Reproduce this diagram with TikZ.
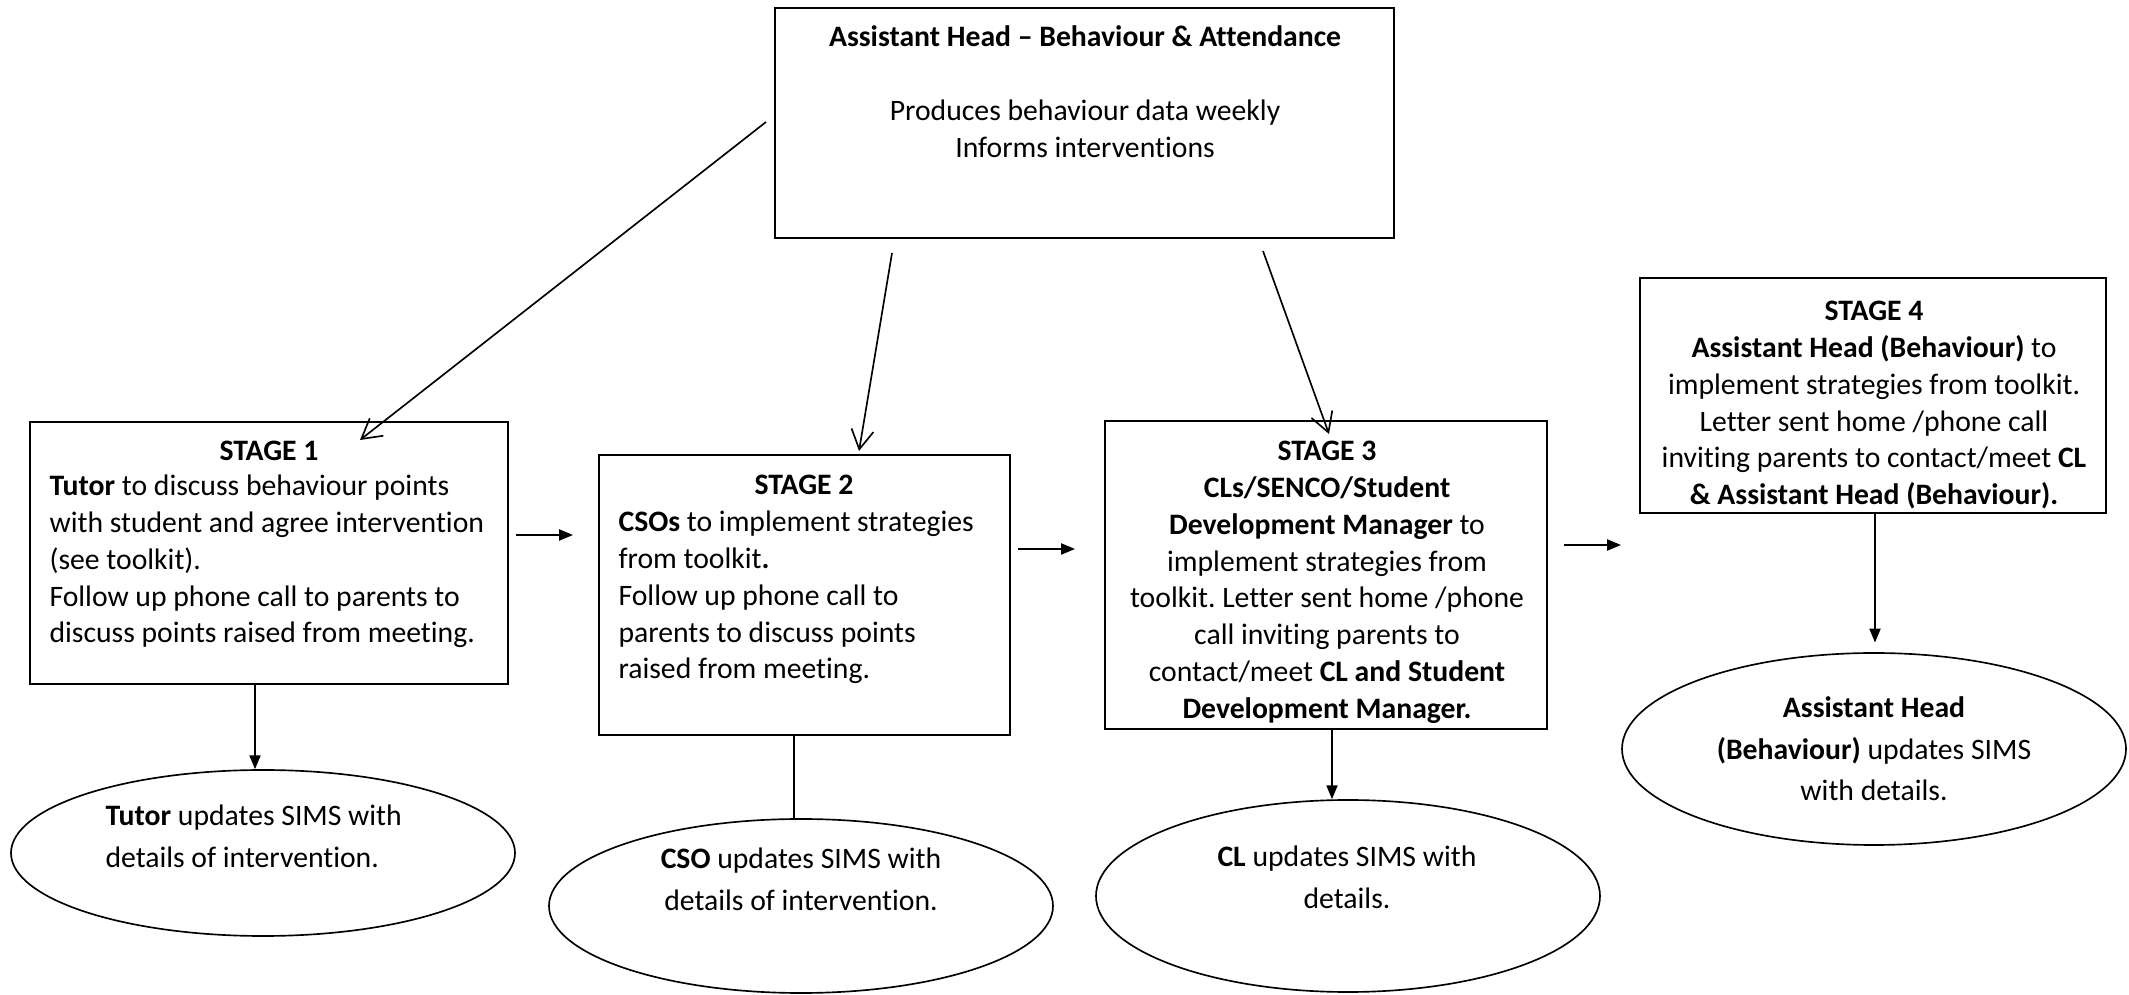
\documentclass[tikz,border=0pt]{standalone}
\usepackage{fontspec}
\setmainfont{Carlito}[Ligatures={NoCommon,NoContextual}]
\frenchspacing
\usetikzlibrary{arrows.meta,shapes.geometric,fit}
\newcommand\ctext[1]{\parbox[t]{220pt}{\centering #1}}
\newcommand\ltext[1]{\parbox[t]{220pt}{\raggedright #1}}
\begin{document}
\begin{tikzpicture}[x=0.362pt,y=-0.362pt,
  box/.style={draw, line width=0.75pt, inner sep=0},
  ell/.style={draw, ellipse, line width=0.6pt, inner sep=0},
  txt/.style={inner sep=0, anchor=base, font=\fontsize{10.75}{13.3}\selectfont},
  etxt/.style={inner sep=0, anchor=base, font=\fontsize{10.75}{14.9}\selectfont},
  openarr/.style={line width=0.6pt, -{Straight Barb[length=7pt,width=8pt,line width=0.6pt]}},
  solidarr/.style={line width=0.6pt, -{Triangle[length=5pt,width=4pt]}},
  plain/.style={line width=0.6pt}]
\useasboundingbox (0,0) rectangle (2129,995);

% boxes
\node[box, fit={(775,8)(1394,238)}] (top) {};
\node[box, fit={(30,422)(508,684)}] (s1) {};
\node[box, fit={(599,455)(1010,735)}] (s2) {};
\node[box, fit={(1105,421)(1547,729)}] (s3) {};
\node[box, fit={(1640,278)(2106,513)}] (s4) {};

% ellipses
\node[ell, minimum width={504*0.362pt}, minimum height={166*0.362pt}] (e1) at (263,853) {};
\node[ell, minimum width={504*0.362pt}, minimum height={174*0.362pt}] (e2) at (801,906) {};
\node[ell, minimum width={504*0.362pt}, minimum height={192*0.362pt}] (e3) at (1348,896) {};
\node[ell, minimum width={504*0.362pt}, minimum height={192*0.362pt}] (e4) at (1874,749) {};

% texts
\node[txt] (ttop) at (1085,47) {\ctext{\textbf{Assistant Head – Behaviour \& Attendance}\\[13.3pt]
Produces behaviour data weekly\\Informs interventions}};

\node[txt] (t1h) at (269,461) {\ctext{\textbf{STAGE 1}}};
\node[txt, anchor=base west] (t1) at (49,496) {\ltext{\textbf{Tutor} to discuss behaviour points\\
with student and agree intervention\\(see toolkit).\\Follow up phone call to parents to\\discuss points raised from meeting.}};

\node[txt] (t2h) at (804,495) {\ctext{\textbf{STAGE 2}}};
\node[txt, anchor=base west] (t2) at (618,532) {\ltext{\textbf{CSOs} to implement strategies\\
from toolkit\textbf{.}\\Follow up phone call to\\parents to discuss points\\raised from meeting.}};

\node[txt] (t3) at (1327,461) {\ctext{\textbf{STAGE 3}\\\textbf{CLs/SENCO/Student}\\\textbf{Development Manager} to\\
implement strategies from\\toolkit. Letter sent home /phone\\call inviting parents to\\contact/meet \textbf{CL and Student}\\\textbf{Development Manager.}}};

\node[txt] (t4) at (1874,321) {\ctext{\textbf{STAGE 4}\\\textbf{Assistant Head (Behaviour)} to\\implement strategies from toolkit.\\
Letter sent home /phone call\\inviting parents to contact/meet \textbf{CL}\\\textbf{\& Assistant Head (Behaviour).}}};

\node[etxt, anchor=base west] (te1) at (105,826) {\ltext{\textbf{Tutor} updates SIMS with\\details of intervention.}};
\node[etxt] (te2) at (801,869) {\ctext{\textbf{CSO} updates SIMS with\\details of intervention.}};
\node[etxt] (te3) at (1347,867) {\ctext{\textbf{CL} updates SIMS with\\details.}};
\node[etxt] (te4) at (1874,718) {\ctext{\textbf{Assistant Head}\\\textbf{(Behaviour)} updates SIMS\\with details.}};

% connector end points
\coordinate (a1) at (766,122);
\coordinate (b1) at (360,440);
\coordinate (a2) at (892,253);
\coordinate (b2) at (859,451);
\coordinate (a3) at (1263,251);
\coordinate (b3) at (1329,434);
\coordinate (h1a) at (516,535);
\coordinate (h1b) at (573,535);
\coordinate (h2a) at (1018,549);
\coordinate (h2b) at (1075,549);
\coordinate (h3a) at (1564,545);
\coordinate (h3b) at (1621,545);
\coordinate (v1) at (255,0);
\coordinate (v2) at (794,0);
\coordinate (v3) at (1332,0);
\coordinate (v4) at (1875,0);

\draw[openarr] (a1) -- (b1);
\draw[openarr] (a2) -- (b2);
\draw[openarr] (a3) -- (b3);
\draw[solidarr] (h1a) -- (h1b);
\draw[solidarr] (h2a) -- (h2b);
\draw[solidarr] (h3a) -- (h3b);
\draw[solidarr] (s1.south -| v1) -- (e1.north -| v1);
\draw[plain] (s2.south -| v2) -- (e2.north -| v2);
\draw[solidarr] (s3.south -| v3) -- (e3.north -| v3);
\draw[solidarr] (s4.south -| v4) -- ([yshift=3.5pt]e4.north -| v4);
\end{tikzpicture}
\end{document}
